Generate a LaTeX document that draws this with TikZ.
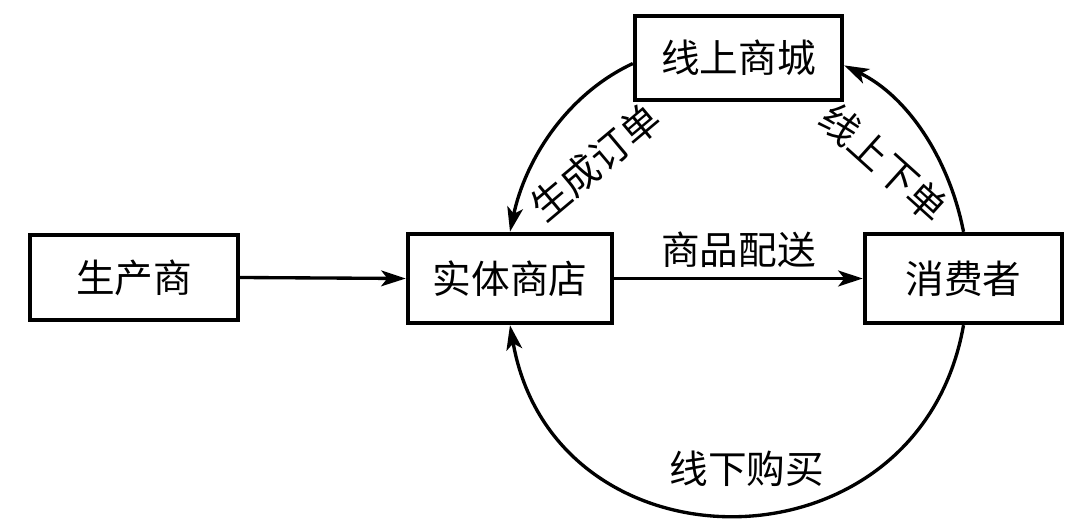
\documentclass[tikz,border=0pt]{standalone}
\usepackage{fontspec}
\setmainfont{Noto Sans CJK SC}
\usetikzlibrary{arrows.meta}

\begin{document}
\begin{tikzpicture}[
  box/.style={draw, line width=2.5pt, inner sep=0pt, font=\fontsize{22}{26}\selectfont},
  flow/.style={line width=1.9pt, -{Stealth[length=14pt,width=9pt,inset=3.5pt]}},
  lbl/.style={font=\fontsize{22}{26}\selectfont, inner sep=0pt}]
\useasboundingbox (0,0) rectangle (21.6,10.48);

\node[box, minimum width=4.16cm, minimum height=1.7cm] (prod) at (2.68,4.93) {生产商};
\node[box, minimum width=4.08cm, minimum height=1.78cm] (store) at (10.2,4.91) {实体商店};
\node[box, minimum width=3.94cm, minimum height=1.78cm] (cons) at (19.27,4.91) {消费者};
\node[box, minimum width=4.14cm, minimum height=1.68cm] (mall) at (14.77,9.32) {线上商城};

\draw[flow] (prod.east) -- (store.west);
\draw[flow] (store.east) -- node[lbl, midway, yshift=0.58cm] {商品配送} (cons.west);

\draw[flow] (mall.183) to[out=205, in=78, looseness=0.9]
  node[lbl, pos=0.5, xshift=0.86cm, yshift=-0.6cm, rotate=40] {生成订单} (store.north);
\draw[flow] (cons.north) to[out=101, in=334, looseness=0.9]
  node[lbl, pos=0.5, xshift=-0.78cm, yshift=-0.58cm, rotate=-42] {线上下单} (mall.-4);
\draw[flow] (cons.south) to[out=-100, in=-80, looseness=1.45]
  node[lbl, pos=0.5, xshift=0.2cm, yshift=0.92cm] {线下购买} (store.south);

\end{tikzpicture}
\end{document}
